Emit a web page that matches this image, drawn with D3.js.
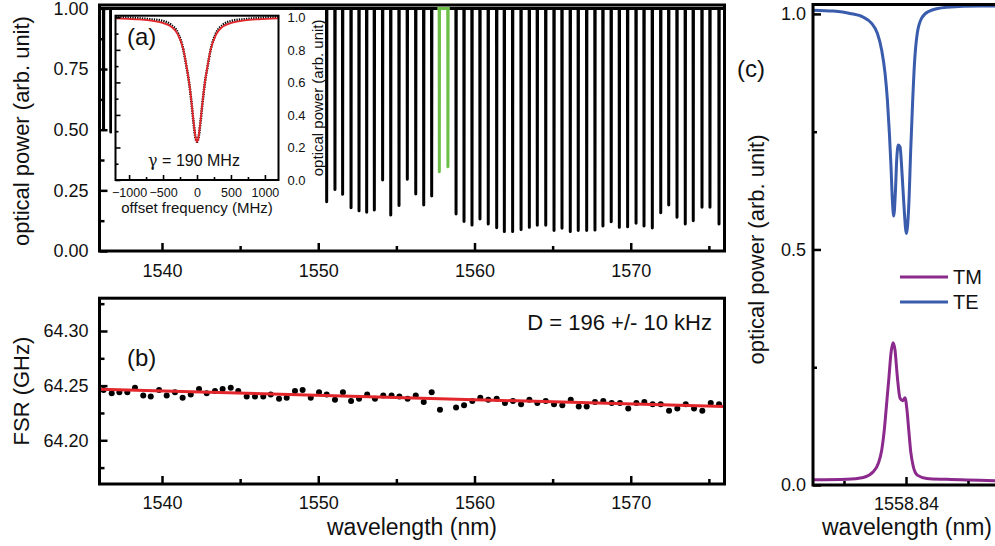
<!DOCTYPE html>
<html>
<head>
<meta charset="UTF-8">
<script src="https://d3js.org/d3.v7.min.js"></script>
<style>
    body { margin: 0; background: #fff; }
    svg { display: block; }
    text { font-family: "Liberation Sans", Arial, sans-serif; fill: #111; }
</style>
</head>
<body>
<svg id="chart" width="995" height="546"></svg>
<script>
// ---------- data ----------
// (a) transmission comb: resonance wavelength (nm) and dip minimum (arb. unit)
const dipWl = [1536.26, 1536.72,
    1537.49, 1538.01, 1538.54, 1539.06, 1539.58, 1540.10, 1540.62, 1541.15, 1541.67, 1542.19,
    1542.71, 1543.23, 1543.76, 1544.28, 1544.80, 1545.32, 1545.84, 1546.37, 1546.89, 1547.41,
    1547.93, 1548.45, 1548.98, 1549.50, 1550.02,
    1550.54, 1551.07, 1551.56, 1552.10, 1552.61, 1553.10, 1553.59, 1554.12, 1554.64, 1555.17,
    1555.70, 1556.24, 1556.75, 1557.26,
    1558.82, 1559.33, 1559.84, 1560.35, 1560.88, 1561.42, 1561.91, 1562.44, 1562.98, 1563.51,
    1564.02, 1564.56, 1565.09, 1565.60, 1566.13, 1566.64, 1567.18, 1567.71, 1568.22, 1568.75,
    1569.27, 1569.80, 1570.34, 1570.85, 1571.38, 1571.92, 1572.43, 1572.96, 1573.49, 1574.00,
    1574.56, 1575.07, 1575.65]
const dipMin = [0.50, 0.49,
    0.35, 0.35, 0.35, 0.35, 0.35, 0.35, 0.35, 0.35, 0.35, 0.35,
    0.35, 0.35, 0.35, 0.35, 0.35, 0.35, 0.35, 0.35, 0.35, 0.35,
    0.35, 0.35, 0.35, 0.35, 0.35,
    0.203, 0.254, 0.234, 0.178, 0.166, 0.160, 0.169, 0.293, 0.148, 0.188,
    0.296, 0.235, 0.190, 0.227,
    0.153, 0.122, 0.107, 0.132, 0.111, 0.096, 0.080, 0.080, 0.089, 0.098,
    0.106, 0.106, 0.084, 0.094, 0.080, 0.084, 0.084, 0.087, 0.103, 0.121,
    0.098, 0.100, 0.114, 0.103, 0.095, 0.158, 0.190, 0.139, 0.111, 0.125,
    0.180, 0.180, 0.111]
// highlighted (green) resonances
const greenWl = [1557.75, 1558.30]
const greenMin = [0.327, 0.347]

// (a) inset: offset frequency (MHz) vs normalized power
const insetData = [[-1200, 1.0], [-900, 0.995], [-700, 0.988], [-520, 0.979], [-380, 0.953],
    [-280, 0.902], [-200, 0.799], [-155, 0.696], [-115, 0.594], [-80, 0.471], [-50, 0.349],
    [-20, 0.256], [0, 0.235], [20, 0.256], [50, 0.349], [80, 0.471], [115, 0.594], [155, 0.696],
    [200, 0.799], [280, 0.902], [380, 0.953], [520, 0.979], [700, 0.988], [900, 0.995], [1200, 1.0]]
const insetFit = [[-1200, 0.993], [-900, 0.988], [-700, 0.981], [-520, 0.967], [-380, 0.943],
    [-280, 0.893], [-200, 0.800], [-155, 0.700], [-115, 0.595], [-80, 0.474], [-50, 0.355],
    [-20, 0.258], [0, 0.235], [20, 0.258], [50, 0.355], [80, 0.474], [115, 0.595], [155, 0.700],
    [200, 0.800], [280, 0.893], [380, 0.943], [520, 0.967], [700, 0.981], [900, 0.988], [1200, 0.993]]

// (b) FSR (GHz) vs wavelength (nm)
const fsrPoints = [[1536.26, 64.246], [1536.78, 64.243], [1537.27, 64.244], [1537.78, 64.244],
    [1538.27, 64.248], [1538.80, 64.241], [1539.28, 64.240], [1539.81, 64.246], [1540.30, 64.241],
    [1540.83, 64.244], [1541.32, 64.239], [1541.84, 64.242], [1542.37, 64.247], [1542.86, 64.243],
    [1543.39, 64.245], [1543.88, 64.247], [1544.40, 64.248], [1544.88, 64.245], [1545.42, 64.240],
    [1545.95, 64.240], [1546.48, 64.240], [1546.96, 64.242], [1547.49, 64.238], [1547.98, 64.239],
    [1548.51, 64.245], [1549.00, 64.246], [1549.52, 64.239], [1550.05, 64.244], [1550.54, 64.242],
    [1551.07, 64.237], [1551.58, 64.244], [1552.10, 64.236], [1552.61, 64.238], [1553.13, 64.242],
    [1553.63, 64.238], [1554.16, 64.241], [1554.69, 64.241], [1555.19, 64.240], [1555.72, 64.238],
    [1556.24, 64.241], [1556.75, 64.235], [1557.26, 64.244], [1557.79, 64.228], [1558.82, 64.230],
    [1559.33, 64.232], [1559.86, 64.236], [1560.37, 64.239], [1560.88, 64.237], [1561.42, 64.238],
    [1561.95, 64.234], [1562.46, 64.236], [1562.98, 64.233], [1563.51, 64.237], [1564.02, 64.234],
    [1564.56, 64.236], [1565.09, 64.233], [1565.62, 64.232], [1566.16, 64.237], [1566.67, 64.231],
    [1567.18, 64.231], [1567.71, 64.235], [1568.24, 64.236], [1568.78, 64.234], [1569.31, 64.234],
    [1569.84, 64.229], [1570.36, 64.234], [1570.87, 64.235], [1571.40, 64.233], [1571.92, 64.233],
    [1572.45, 64.227], [1572.98, 64.229], [1573.52, 64.233], [1574.05, 64.229], [1574.58, 64.227],
    [1575.12, 64.234], [1575.65, 64.233]]
const fsrFit = [[1536, 64.2467], [1576, 64.2308]]

// (c) TE / TM around 1558.84 nm
const teData = [[1558.83253, 1.008], [1558.83414, 1.006], [1558.83548, 1.001], [1558.83656, 0.993],
    [1558.83723, 0.980], [1558.83769, 0.959], [1558.83804, 0.923], [1558.83831, 0.874],
    [1558.83850, 0.817], [1558.83866, 0.747], [1558.83879, 0.676], [1558.83890, 0.605],
    [1558.83901, 0.571], [1558.83914, 0.619], [1558.83925, 0.690], [1558.83938, 0.722],
    [1558.83952, 0.718], [1558.83968, 0.662], [1558.83984, 0.591], [1558.84003, 0.534],
    [1558.84022, 0.591], [1558.84038, 0.711], [1558.84054, 0.817], [1558.84070, 0.902],
    [1558.84091, 0.959], [1558.84126, 0.991], [1558.84180, 1.005], [1558.84328, 1.014],
    [1558.84597, 1.017], [1558.84718, 1.017]]
const tmData = [[1558.83253, 0.011], [1558.83522, 0.012], [1558.83656, 0.016], [1558.83736, 0.028],
    [1558.83777, 0.046], [1558.83804, 0.074], [1558.83825, 0.117], [1558.83844, 0.173],
    [1558.83863, 0.230], [1558.83879, 0.280], [1558.83895, 0.302], [1558.83911, 0.287],
    [1558.83930, 0.230], [1558.83952, 0.184], [1558.83973, 0.179], [1558.83992, 0.185],
    [1558.84008, 0.159], [1558.84022, 0.117], [1558.84038, 0.071], [1558.84059, 0.039],
    [1558.84091, 0.021], [1558.84167, 0.014], [1558.84328, 0.012], [1558.84718, 0.009]]

// tick values
const wlMajor = [1540, 1550, 1560, 1570]
const wlMinor = [1545, 1555, 1565, 1575]
const powMajor = [0, 0.25, 0.5, 0.75, 1.0]
const powMinor = [0.125, 0.375, 0.625, 0.875]
const fsrMajor = [64.20, 64.25, 64.30]
const fsrMinor = [64.175, 64.225, 64.275, 64.325]
const insXMajor = [-1000, -500, 0, 500, 1000]
const insXMinor = [-750, -250, 250, 750]
const insYMajor = [0, 0.2, 0.4, 0.6, 0.8, 1.0]
const insYMinor = [0.1, 0.3, 0.5, 0.7, 0.9]
const cXMajor = [1558.84]
const cXMinor = [1558.835, 1558.845]
const cYMajor = [0, 0.5, 1.0]
const cYMinor = [0.25, 0.75]

const svg = d3.select('#chart')

// helper: draws inward ticks + labels and strips the domain line
function drawAxis(g, axis, fontSize, width) {
    g.call(axis)
    g.select('.domain').remove()
    g.selectAll('line').attr('stroke', '#000').attr('stroke-width', width)
    g.selectAll('text').style('font-size', fontSize + 'px').attr('fill', '#111')
        .style('font-family', '"Liberation Sans", Arial, sans-serif')
}

function combPoints(wl, mins, start, end) {
    const pts = [[start, 1]]
    wl.forEach((w, i) => {
        pts.push([w - 0.012, 1], [w, mins[i]], [w + 0.012, 1])
    })
    pts.push([end, 1])
    return pts
}

// ================= panel (a) =================
const xA = d3.scaleLinear().domain([1536, 1576]).range([99.5, 724.5])
const yA = d3.scaleLinear().domain([0, 1.014]).range([251, 5])

svg.append('clipPath').attr('id', 'clipA')
    .append('rect').attr('x', xA(1536)).attr('y', 2).attr('width', xA(1576) - xA(1536)).attr('height', yA(0) - 2)

const lineA = d3.line().x(d => xA(d[0])).y(d => yA(d[1]))
const gA = svg.append('g')
gA.append('path')
    .attr('clip-path', 'url(#clipA)')
    .attr('d', lineA(combPoints(dipWl, dipMin, 1536, 1576)))
    .attr('fill', 'none').attr('stroke', '#000').attr('stroke-width', 3)
    .attr('stroke-linejoin', 'round')
gA.append('path')
    .attr('d', lineA(combPoints(greenWl, greenMin, 1557.62, 1558.42)))
    .attr('fill', 'none').attr('stroke', '#6cbf48').attr('stroke-width', 3)
    .attr('stroke-linejoin', 'round')

// frame
gA.append('rect')
    .attr('x', xA(1536)).attr('y', yA(1.014))
    .attr('width', xA(1576) - xA(1536)).attr('height', yA(0) - yA(1.014))
    .attr('fill', 'none').attr('stroke', '#000').attr('stroke-width', 3)

drawAxis(gA.append('g').attr('transform', `translate(0,${yA(0)})`),
    d3.axisBottom(xA).tickValues(wlMajor).tickSize(-8).tickPadding(13).tickFormat(d3.format('d')), 18, 2.5)
drawAxis(gA.append('g').attr('transform', `translate(0,${yA(0)})`),
    d3.axisBottom(xA).tickValues(wlMinor).tickSize(-5).tickFormat(''), 18, 2.5)
drawAxis(gA.append('g').attr('transform', `translate(${xA(1536)},0)`),
    d3.axisLeft(yA).tickValues(powMajor).tickSize(-8).tickPadding(11).tickFormat(d3.format('.2f')), 18, 2.5)
drawAxis(gA.append('g').attr('transform', `translate(${xA(1536)},0)`),
    d3.axisLeft(yA).tickValues(powMinor).tickSize(-5).tickFormat(''), 18, 2.5)

svg.append('text')
    .attr('transform', `translate(29,${(yA(0) + yA(1.014)) / 2 + 3}) rotate(-90)`)
    .attr('text-anchor', 'middle').style('font-size', '22px')
    .text('optical power (arb. unit)')

// ---------- inset ----------
gA.append('rect').attr('x', 112).attr('y', 10).attr('width', 213).attr('height', 212).attr('fill', '#fff')

const xI = d3.scaleLinear().domain([-1200, 1200]).range([115.5, 278.5])
const yI = d3.scaleLinear().domain([0, 1.01]).range([180, 15.7])
const lineI = d3.line().x(d => xI(d[0])).y(d => yI(d[1])).curve(d3.curveMonotoneX)

gA.append('path').attr('d', lineI(insetData))
    .attr('fill', 'none').attr('stroke', '#000').attr('stroke-width', 2.6)
    .attr('stroke-dasharray', '1.3 1.1')
gA.append('path').attr('d', lineI(insetFit))
    .attr('fill', 'none').attr('stroke', '#e3262b').attr('stroke-width', 1.8)

gA.append('rect')
    .attr('x', xI(-1200)).attr('y', yI(1.01))
    .attr('width', xI(1200) - xI(-1200)).attr('height', yI(0) - yI(1.01))
    .attr('fill', 'none').attr('stroke', '#000').attr('stroke-width', 2)

drawAxis(gA.append('g').attr('transform', `translate(0,${yI(0)})`),
    d3.axisBottom(xI).tickValues(insXMajor).tickSize(-5).tickPadding(8).tickFormat(d3.format('d')), 12.5, 1.6)
drawAxis(gA.append('g').attr('transform', `translate(0,${yI(0)})`),
    d3.axisBottom(xI).tickValues(insXMinor).tickSize(-3).tickFormat(''), 12.5, 1.6)
drawAxis(gA.append('g').attr('transform', `translate(${xI(-1200)},0)`),
    d3.axisLeft(yI).tickValues(insYMajor).tickSize(-5).tickFormat(''), 12.5, 1.6)
drawAxis(gA.append('g').attr('transform', `translate(${xI(-1200)},0)`),
    d3.axisLeft(yI).tickValues(insYMinor).tickSize(-3).tickFormat(''), 12.5, 1.6)
drawAxis(gA.append('g').attr('transform', `translate(${xI(1200)},0)`),
    d3.axisRight(yI).tickValues(insYMajor).tickSize(0).tickPadding(9).tickFormat(d3.format('.1f')), 13, 1.6)

gA.append('text').attr('x', (xI(-1200) + xI(1200)) / 2).attr('y', 213)
    .attr('text-anchor', 'middle').style('font-size', '15px').text('offset frequency (MHz)')
gA.append('text')
    .attr('transform', `translate(323,${(yI(0) + yI(1.01)) / 2}) rotate(-90)`)
    .attr('text-anchor', 'middle').style('font-size', '15px')
    .text('optical power (arb. unit)')
const gamma = gA.append('text').attr('x', 194).attr('y', 166).attr('text-anchor', 'middle')
    .style('font-size', '16px')
gamma.append('tspan').style('font-family', '"DejaVu Serif", serif').text('γ')
gamma.append('tspan').text(' = 190 MHz')
gA.append('text').attr('x', 127).attr('y', 45).style('font-size', '24px').text('(a)')

// ================= panel (b) =================
const yB = d3.scaleLinear().domain([64.16, 64.33]).range([484, 298.2])
const gB = svg.append('g')

gB.selectAll('circle').data(fsrPoints).enter().append('circle')
    .attr('cx', d => xA(d[0])).attr('cy', d => yB(d[1])).attr('r', 3).attr('fill', '#000')

gB.append('path')
    .attr('d', d3.line().x(d => xA(d[0])).y(d => yB(d[1]))(fsrFit))
    .attr('fill', 'none').attr('stroke', '#e3262b').attr('stroke-width', 3)

gB.append('rect')
    .attr('x', xA(1536)).attr('y', yB(64.33))
    .attr('width', xA(1576) - xA(1536)).attr('height', yB(64.16) - yB(64.33))
    .attr('fill', 'none').attr('stroke', '#000').attr('stroke-width', 3)

drawAxis(gB.append('g').attr('transform', `translate(0,${yB(64.16)})`),
    d3.axisBottom(xA).tickValues(wlMajor).tickSize(-8).tickPadding(12).tickFormat(d3.format('d')), 18, 2.5)
drawAxis(gB.append('g').attr('transform', `translate(0,${yB(64.16)})`),
    d3.axisBottom(xA).tickValues(wlMinor).tickSize(-5).tickFormat(''), 18, 2.5)
drawAxis(gB.append('g').attr('transform', `translate(${xA(1536)},0)`),
    d3.axisLeft(yB).tickValues(fsrMajor).tickSize(-8).tickPadding(11).tickFormat(d3.format('.2f')), 18, 2.5)
drawAxis(gB.append('g').attr('transform', `translate(${xA(1536)},0)`),
    d3.axisLeft(yB).tickValues(fsrMinor).tickSize(-5).tickFormat(''), 18, 2.5)

svg.append('text')
    .attr('transform', `translate(29,${(yB(64.16) + yB(64.33)) / 2}) rotate(-90)`)
    .attr('text-anchor', 'middle').style('font-size', '22px').text('FSR (GHz)')
svg.append('text').attr('x', (xA(1536) + xA(1576)) / 2).attr('y', 535)
    .attr('text-anchor', 'middle').style('font-size', '23px').text('wavelength (nm)')
gB.append('text').attr('x', 712).attr('y', 330).attr('text-anchor', 'end')
    .style('font-size', '22px').text('D = 196 +/- 10 kHz')
gB.append('text').attr('x', 127).attr('y', 366).style('font-size', '24px').text('(b)')

// ================= panel (c) =================
const xC = d3.scaleLinear().domain([1558.8325, 1558.8475]).range([813, 999])
const yC = d3.scaleLinear().domain([0, 1.02]).range([485, 4.5])
const lineC = d3.line().x(d => xC(d[0])).y(d => yC(d[1])).curve(d3.curveMonotoneX)
const gC = svg.append('g')

gC.append('path').attr('d', lineC(teData))
    .attr('fill', 'none').attr('stroke', '#3a5cac').attr('stroke-width', 3)
gC.append('path').attr('d', lineC(tmData))
    .attr('fill', 'none').attr('stroke', '#8b2a8c').attr('stroke-width', 3)

gC.append('path')
    .attr('d', `M999,${yC(1.02)}H${xC(1558.8325)}V${yC(0)}H999`)
    .attr('fill', 'none').attr('stroke', '#000').attr('stroke-width', 3)

drawAxis(gC.append('g').attr('transform', `translate(0,${yC(0)})`),
    d3.axisBottom(xC).tickValues(cXMajor).tickSize(-8).tickPadding(12).tickFormat(d3.format('.2f')), 18, 2.5)
drawAxis(gC.append('g').attr('transform', `translate(0,${yC(0)})`),
    d3.axisBottom(xC).tickValues(cXMinor).tickSize(-4).tickFormat(''), 18, 2.5)
drawAxis(gC.append('g').attr('transform', `translate(${xC(1558.8325)},0)`),
    d3.axisLeft(yC).tickValues(cYMajor).tickSize(-8).tickPadding(7).tickFormat(d3.format('.1f')), 18, 2.5)
drawAxis(gC.append('g').attr('transform', `translate(${xC(1558.8325)},0)`),
    d3.axisLeft(yC).tickValues(cYMinor).tickSize(-4).tickFormat(''), 18, 2.5)

svg.append('text')
    .attr('transform', `translate(764,${yC(0.5)}) rotate(-90)`)
    .attr('text-anchor', 'middle').style('font-size', '22px').text('optical power (arb. unit)')
svg.append('text').attr('x', 907).attr('y', 535)
    .attr('text-anchor', 'middle').style('font-size', '23px').text('wavelength (nm)')
svg.append('text').attr('x', 737).attr('y', 77).style('font-size', '24px').text('(c)')

// legend
const legend = [['TM', '#8b2a8c', 277], ['TE', '#3a5cac', 302]]
legend.forEach(d => {
    gC.append('line').attr('x1', 900).attr('x2', 948).attr('y1', d[2]).attr('y2', d[2])
        .attr('stroke', d[1]).attr('stroke-width', 3)
    gC.append('text').attr('x', 953).attr('y', d[2] + 7).style('font-size', '20px').text(d[0])
})
</script>
</body>
</html>
